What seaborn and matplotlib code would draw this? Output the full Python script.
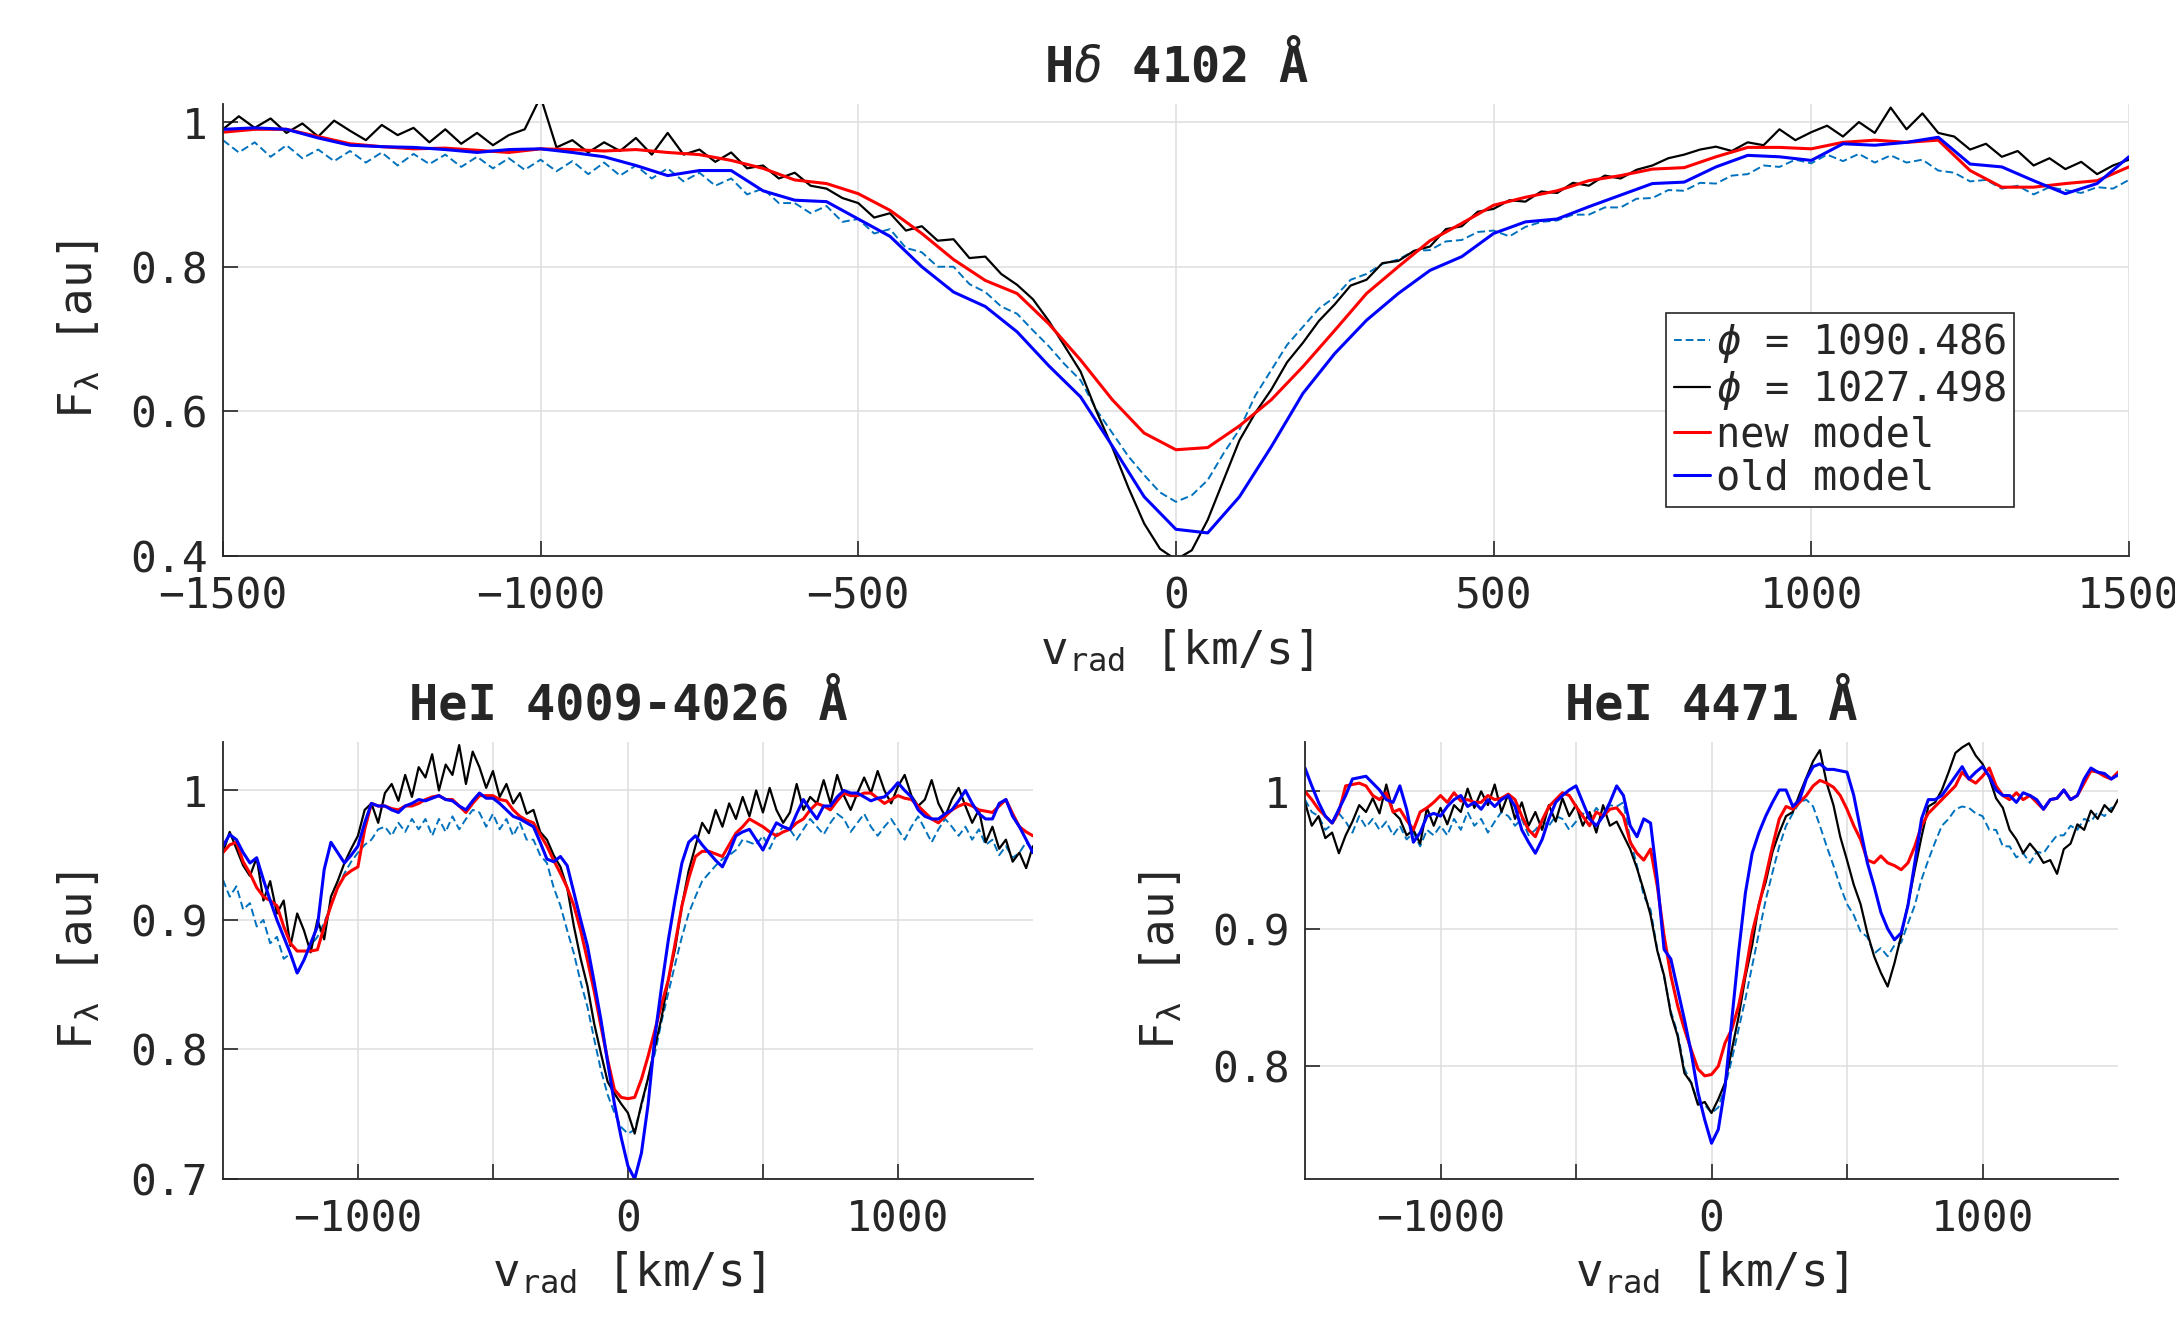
import numpy as np
import seaborn as sns
import matplotlib.pyplot as plt
from matplotlib.lines import Line2D

# velocity grids [km/s]
v_obs = np.arange(-1500, 1501, 25)
v_hd_mod = np.arange(-1500, 1501, 50)

# ---- H delta 4102 (values in 1e-3 flux units) ----
hd_lblue = np.array([
    975, 958, 972, 952, 968, 950, 962, 946, 960, 944,
    958, 940, 956, 942, 955, 938, 952, 936, 950, 934,
    948, 932, 946, 928, 944, 926, 940, 922, 936, 918,
    930, 912, 922, 900, 908, 888, 888, 874, 884, 862,
    866, 846, 852, 826, 820, 800, 800, 776, 765, 745,
    735, 712, 690, 665, 643, 602, 570, 538, 512, 488,
    475, 484, 505, 542, 575, 622, 657, 692, 717, 742,
    758, 782, 790, 804, 810, 822, 823, 835, 837, 848,
    850, 842, 855, 862, 864, 872, 872, 882, 882, 894,
    895, 906, 905, 916, 915, 926, 928, 940, 938, 948,
    943, 955, 946, 956, 944, 954, 944, 948, 933, 930,
    918, 920, 908, 912, 900, 910, 906, 902, 910, 908,
    920]) / 1000
hd_black = np.array([
    990, 1008, 992, 1005, 985, 998, 980, 1002, 988, 975,
    996, 982, 992, 972, 990, 970, 985, 968, 982, 990,
    1035, 965, 975, 958, 972, 960, 978, 955, 985, 955,
    962, 945, 958, 936, 940, 922, 930, 912, 908, 895,
    888, 868, 874, 850, 856, 836, 838, 812, 814, 790,
    775, 755, 725, 690, 655, 600, 550, 495, 445, 410,
    395, 408, 450, 505, 560, 598, 630, 668, 695, 725,
    748, 774, 782, 805, 808, 822, 828, 852, 856, 876,
    880, 892, 890, 904, 902, 916, 912, 926, 922, 934,
    940, 950, 955, 962, 966, 960, 972, 968, 990, 975,
    986, 995, 980, 1000, 985, 1020, 990, 1012, 985, 980,
    962, 970, 952, 960, 940, 950, 935, 945, 928, 940,
    948]) / 1000
hd_new = np.array([
    986, 990, 990, 980, 970, 966, 963, 964, 961, 958,
    963, 962, 960, 962, 958, 955, 947, 936, 920, 915,
    901, 878, 846, 810, 781, 763, 721, 671, 616, 570,
    547, 550, 580, 616, 662, 712, 763, 800, 836, 860,
    885, 896, 905, 919, 926, 935, 937, 952, 965, 965,
    963, 972, 975, 972, 975, 933, 910, 910, 915, 919,
    938]) / 1000
hd_old = np.array([
    990, 992, 990, 978, 968, 966, 965, 962, 958, 962,
    963, 958, 952, 940, 926, 933, 933, 905, 892, 890,
    866, 842, 800, 765, 745, 710, 663, 620, 552, 482,
    437, 432, 482, 551, 625, 680, 726, 763, 795, 814,
    846, 862, 866, 883, 899, 915, 917, 938, 954, 952,
    947, 970, 968, 972, 979, 942, 938, 919, 901, 915,
    952]) / 1000

# ---- HeI 4009-4026 ----
he1_lblue = np.array([
    931, 918, 926, 908, 913, 895, 900, 882, 887, 870,
    874, 858, 869, 880, 887, 898, 911, 925, 936, 945,
    952, 958, 962, 970, 972, 965, 975, 968, 978, 970,
    978, 965, 978, 968, 980, 970, 978, 985, 983, 972,
    982, 970, 978, 965, 975, 962, 962, 950, 944, 925,
    911, 892, 874, 852, 833, 808, 784, 765, 751, 740,
    735, 738, 756, 778, 797, 822, 844, 866, 887, 905,
    918, 930, 936, 942, 947, 950, 954, 962, 960, 958,
    965, 955, 966, 972, 970, 962, 970, 978, 972, 966,
    975, 982, 978, 968, 975, 982, 972, 965, 972, 978,
    970, 962, 972, 980, 970, 960, 970, 978, 972, 965,
    972, 962, 970, 958, 962, 950, 957, 948, 952, 960,
    954]) / 1000
he1_black = np.array([
    952, 968, 955, 942, 934, 948, 915, 930, 905, 915,
    880, 905, 892, 875, 900, 885, 918, 930, 944, 955,
    965, 985, 990, 975, 998, 1005, 992, 1012, 995, 1018,
    1010, 1028, 1000, 1020, 1012, 1035, 1005, 1030, 1018, 1002,
    1015, 995, 1005, 990, 998, 982, 985, 968, 962, 950,
    941, 925, 895, 870, 849, 820, 797, 775, 766, 758,
    751, 735, 758, 778, 802, 825, 854, 878, 911, 938,
    957, 975, 967, 985, 972, 990, 978, 995, 980, 1000,
    983, 1002, 985, 975, 983, 1005, 985, 995, 990, 1008,
    990, 1012, 996, 985, 998, 1010, 998, 1015, 1000, 990,
    1003, 1012, 996, 988, 993, 1008, 990, 980, 993, 1002,
    988, 975, 985, 960, 972, 955, 962, 945, 952, 940,
    957]) / 1000
he1_new = np.array([
    952, 958, 960, 945, 936, 925, 918, 915, 911, 895,
    882, 876, 876, 876, 877, 895, 911, 925, 934, 938,
    941, 970, 990, 988, 988, 986, 985, 988, 988, 990,
    993, 995, 996, 993, 993, 988, 983, 990, 996, 996,
    996, 993, 992, 985, 980, 977, 975, 966, 957, 946,
    936, 925, 911, 892, 869, 845, 818, 792, 769, 763,
    762, 763, 777, 795, 815, 835, 854, 882, 911, 932,
    949, 953, 953, 951, 949, 958, 967, 972, 978, 975,
    972, 968, 965, 968, 970, 975, 978, 985, 990, 988,
    985, 992, 998, 996, 996, 998, 998, 994, 990, 993,
    996, 994, 993, 988, 983, 978, 975, 980, 985, 988,
    990, 988, 985, 984, 983, 988, 993, 982, 972, 968,
    965]) / 1000
he1_old = np.array([
    957, 966, 962, 952, 944, 948, 931, 915, 900, 887,
    874, 859, 869, 882, 895, 939, 960, 952, 944, 950,
    957, 975, 990, 988, 988, 985, 983, 988, 990, 993,
    992, 994, 996, 993, 992, 988, 985, 992, 998, 994,
    994, 990, 985, 980, 978, 975, 972, 960, 947, 945,
    949, 942, 921, 900, 880, 852, 823, 790, 758, 732,
    710, 700, 720, 758, 810, 849, 885, 916, 944, 960,
    965, 958, 952, 946, 941, 952, 965, 968, 970, 962,
    954, 965, 975, 972, 970, 982, 993, 985, 978, 988,
    988, 995, 1000, 998, 998, 995, 992, 994, 995, 1000,
    1006, 1000, 995, 985, 980, 978, 978, 982, 985, 992,
    1000, 990, 982, 978, 978, 990, 993, 980, 972, 962,
    952]) / 1000

# ---- HeI 4471 ----
he2_lblue = np.array([
    994, 985, 982, 972, 976, 984, 978, 970, 982, 974,
    980, 972, 978, 968, 975, 965, 970, 960, 972, 968,
    975, 968, 980, 972, 985, 975, 980, 970, 978, 985,
    982, 975, 980, 968, 972, 978, 975, 982, 980, 972,
    978, 984, 980, 988, 982, 990, 989, 992, 965, 946,
    924, 914, 885, 865, 840, 824, 798, 788, 774, 772,
    766, 770, 785, 805, 827, 849, 873, 897, 921, 941,
    960, 975, 984, 992, 994, 989, 975, 960, 946, 931,
    918, 910, 898, 894, 882, 886, 880, 888, 890, 904,
    917, 936, 950, 963, 975, 980, 987, 989, 988, 984,
    982, 972, 972, 960, 960, 952, 955, 948, 956, 955,
    962, 968, 968, 975, 972, 980, 978, 985, 982, 988,
    989]) / 1000
he2_black = np.array([
    992, 975, 982, 966, 970, 955, 968, 978, 990, 985,
    995, 984, 1005, 985, 980, 968, 972, 962, 988, 975,
    988, 976, 990, 985, 1002, 988, 1000, 990, 1005, 985,
    998, 980, 992, 975, 985, 972, 990, 978, 995, 982,
    990, 975, 985, 970, 990, 975, 978, 968, 958, 944,
    928, 910, 884, 866, 838, 822, 795, 788, 772, 774,
    766, 776, 788, 812, 836, 865, 888, 918, 934, 956,
    970, 982, 985, 998, 1010, 1022, 1030, 1006, 990, 967,
    950, 932, 918, 897, 880, 868, 858, 875, 895, 918,
    943, 967, 989, 992, 1001, 1014, 1028, 1032, 1035, 1026,
    1020, 1010, 995, 988, 972, 965, 955, 962, 956, 948,
    950, 940, 958, 962, 976, 972, 986, 980, 990, 985,
    994]) / 1000
he2_new = np.array([
    1000, 994, 987, 982, 977, 985, 1004, 1005, 1006, 1004,
    997, 994, 999, 985, 987, 979, 972, 985, 988, 992,
    997, 992, 999, 993, 994, 992, 992, 997, 994, 995,
    998, 994, 982, 972, 967, 979, 989, 994, 999, 997,
    989, 982, 975, 985, 982, 987, 988, 982, 963, 955,
    950, 958, 931, 895, 866, 844, 827, 812, 798, 793,
    794, 800, 817, 827, 844, 868, 897, 917, 938, 960,
    980, 989, 987, 992, 997, 1004, 1008, 1006, 1003, 997,
    987, 975, 965, 950, 948, 953, 948, 946, 943, 948,
    960, 975, 984, 989, 994, 999, 1004, 1014, 1009, 1006,
    1011, 1017, 1004, 997, 994, 999, 994, 997, 992, 987,
    994, 995, 1001, 994, 997, 1006, 1015, 1014, 1011, 1009,
    1014]) / 1000
he2_old = np.array([
    1017, 1004, 992, 982, 977, 987, 997, 1009, 1010, 1011,
    1006, 1001, 994, 992, 1004, 987, 963, 970, 982, 984,
    982, 989, 994, 997, 989, 992, 987, 994, 989, 994,
    997, 989, 972, 963, 955, 965, 980, 992, 997, 1001,
    1004, 992, 980, 975, 982, 992, 1004, 997, 975, 967,
    980, 977, 936, 885, 878, 856, 834, 810, 781, 761,
    744, 754, 785, 834, 883, 926, 955, 970, 982, 992,
    1001, 1001, 989, 994, 1009, 1018, 1020, 1016, 1016, 1015,
    1014, 997, 972, 948, 931, 912, 900, 892, 897, 917,
    948, 980, 994, 994, 997, 1004, 1011, 1018, 1009, 1014,
    1018, 1011, 1001, 997, 997, 992, 999, 997, 994, 987,
    994, 995, 1001, 994, 997, 1009, 1017, 1014, 1013, 1009,
    1012]) / 1000

legend_labels = [r'$\phi$ = 1090.486', r'$\phi$ = 1027.498', 'new model', 'old model']

sns.set_theme(style='ticks')
plt.rcParams['font.family'] = ['DejaVu Sans Mono']
plt.rcParams['mathtext.fontset'] = 'custom'
plt.rcParams['mathtext.rm'] = 'DejaVu Sans Mono'
plt.rcParams['mathtext.it'] = 'DejaVu Sans Mono:italic'
plt.rcParams['mathtext.bf'] = 'DejaVu Sans Mono:bold'

C_LBLUE = '#0072BD'
DARK = '#262626'

fig = plt.figure(figsize=(21.75, 13.18), dpi=100)
ax_top = fig.add_axes([0.1025, 0.5781, 0.8763, 0.343])
ax_bl = fig.add_axes([0.1025, 0.1055, 0.3724, 0.3316])
ax_br = fig.add_axes([0.600, 0.1055, 0.3738, 0.3316])


def draw(ax, lblue, black, v_mod, new, old):
    sns.lineplot(x=v_obs, y=lblue, ax=ax, color=C_LBLUE, lw=1.4,
                 linestyle=(0, (4, 2)), sort=False, estimator=None)
    sns.lineplot(x=v_obs, y=black, ax=ax, color='black', lw=1.6,
                 sort=False, estimator=None)
    sns.lineplot(x=v_mod, y=new, ax=ax, color='#ff0000', lw=2.2,
                 sort=False, estimator=None)
    sns.lineplot(x=v_mod, y=old, ax=ax, color='#0000ff', lw=2.2,
                 sort=False, estimator=None)


def style(ax, title, yticks, ylim, xticks, xlabels):
    ax.set_xlim(-1500, 1500)
    ax.set_ylim(*ylim)
    ax.set_xticks(xticks)
    ax.set_xticklabels(xlabels)
    ax.set_yticks(yticks)
    ax.set_yticklabels([('%g' % t) for t in yticks])
    ax.grid(True, color='#dedede', lw=1.1)
    ax.set_axisbelow(True)
    for s in ['top', 'right']:
        ax.spines[s].set_visible(False)
    for s in ['left', 'bottom']:
        ax.spines[s].set_color(DARK)
        ax.spines[s].set_linewidth(1.3)
    ax.tick_params(direction='in', length=11, width=1.2, colors=DARK,
                   labelsize=31)
    ax.tick_params(axis='x', pad=14)
    ax.tick_params(axis='y', pad=11)
    ax.set_xlabel(r'v$_{\mathrm{rad}}$ [km/s]', fontsize=33, color=DARK, labelpad=7)
    ax.set_ylabel(r'F$_{\mathrm{λ}}$ [au]', fontsize=33, color=DARK, labelpad=20)
    ax.set_title(title, fontsize=35, fontweight='bold', pad=16)


draw(ax_top, hd_lblue, hd_black, v_hd_mod, hd_new, hd_old)
draw(ax_bl, he1_lblue, he1_black, v_obs, he1_new, he1_old)
draw(ax_br, he2_lblue, he2_black, v_obs, he2_new, he2_old)

top_xt = [-1500, -1000, -500, 0, 500, 1000, 1500]
style(ax_top, r'H$\delta$ 4102 Å', [0.4, 0.6, 0.8, 1.0], (0.4, 1.025),
      top_xt, [str(t).replace('-', '\u2212') for t in top_xt])
bot_xt = [-1000, -500, 0, 500, 1000]
bot_xl = ['\u22121000', '', '0', '', '1000']
style(ax_bl, 'HeI 4009-4026 Å', [0.7, 0.8, 0.9, 1.0], (0.7, 1.0375), bot_xt, bot_xl)
style(ax_br, 'HeI 4471 Å', [0.8, 0.9, 1.0], (0.718, 1.036), bot_xt, bot_xl)

handles = [
    Line2D([], [], color=C_LBLUE, lw=1.4, linestyle=(0, (4, 2))),
    Line2D([], [], color='black', lw=1.6),
    Line2D([], [], color='#ff0000', lw=2.2),
    Line2D([], [], color='#0000ff', lw=2.2),
]
leg = ax_top.legend(handles, legend_labels, loc='upper left',
                    bbox_to_anchor=(0.757, 0.538), fontsize=29,
                    frameon=True, fancybox=False, framealpha=1,
                    edgecolor=DARK, handlelength=0.9, handletextpad=0.15,
                    borderpad=0.2, labelspacing=0.08, borderaxespad=0)
leg.get_frame().set_linewidth(1.2)

fig.savefig('out.png', dpi=100)
